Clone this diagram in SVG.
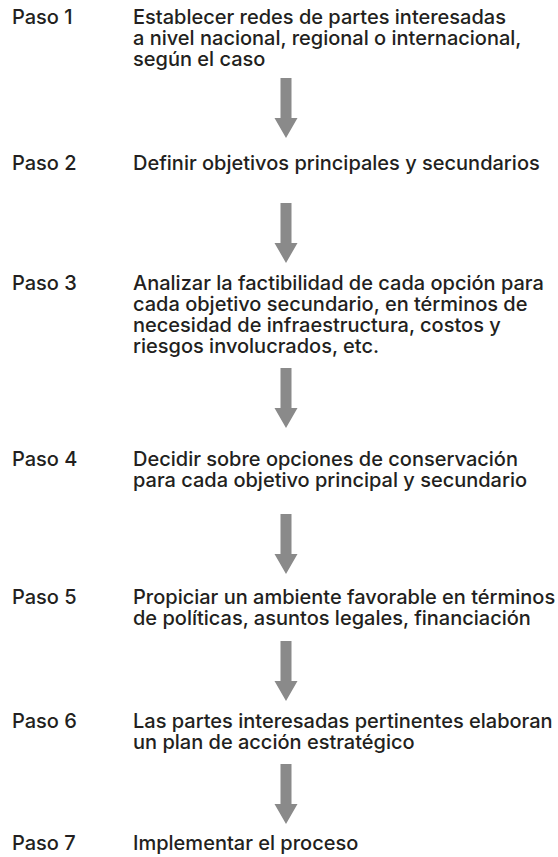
<svg xmlns="http://www.w3.org/2000/svg" width="558" height="857" viewBox="0 0 558 857">
<style>
text{font-family:Inter,"Liberation Sans",Arial,sans-serif;font-weight:500;font-size:20px;fill:#231f20}
.arrow{fill:#8a8a8a}
</style>
<defs>
<path id="arr" class="arrow" d="M280.5,0 H291.5 V40 H297.5 L286,60 L274.5,40 H280.5 Z"/>
</defs>
<rect width="558" height="857" fill="#ffffff"/>
<g id="connectors">
<use href="#arr" y="78"/>
<use href="#arr" y="203"/>
<use href="#arr" y="368"/>
<use href="#arr" y="514"/>
<use href="#arr" y="641"/>
<use href="#arr" y="764"/>
</g>
<g id="step1">
<text x="12" y="24">Paso 1</text>
<text x="133" y="24">Establecer redes de partes interesadas</text>
<text x="133" y="45">a nivel nacional, regional o internacional,</text>
<text x="133" y="66">según el caso</text>
</g>
<g id="step2">
<text x="12" y="170">Paso 2</text>
<text x="133" y="170">Definir objetivos principales y secundarios</text>
</g>
<g id="step3">
<text x="12" y="290">Paso 3</text>
<text x="133" y="290">Analizar la factibilidad de cada opción para</text>
<text x="133" y="311">cada objetivo secundario, en términos de</text>
<text x="133" y="332">necesidad de infraestructura, costos y</text>
<text x="133" y="353">riesgos involucrados, etc.</text>
</g>
<g id="step4">
<text x="12" y="466">Paso 4</text>
<text x="133" y="466">Decidir sobre opciones de conservación</text>
<text x="133" y="487">para cada objetivo principal y secundario</text>
</g>
<g id="step5">
<text x="12" y="604">Paso 5</text>
<text x="133" y="604">Propiciar un ambiente favorable en términos</text>
<text x="133" y="625">de políticas, asuntos legales, financiación</text>
</g>
<g id="step6">
<text x="12" y="728">Paso 6</text>
<text x="133" y="728">Las partes interesadas pertinentes elaboran</text>
<text x="133" y="749">un plan de acción estratégico</text>
</g>
<g id="step7">
<text x="12" y="850">Paso 7</text>
<text x="133" y="850">Implementar el proceso</text>
</g>
</svg>
